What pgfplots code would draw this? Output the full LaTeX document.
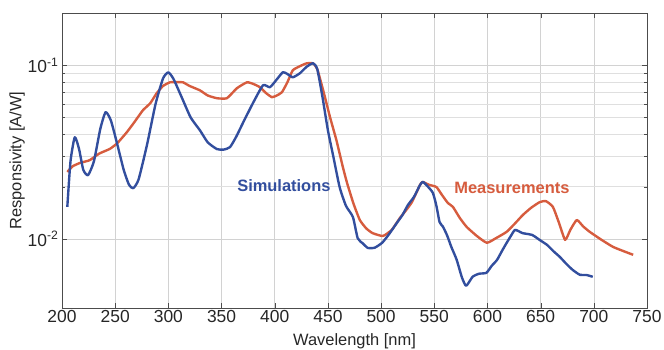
\documentclass[border=0pt]{standalone}
\usepackage{fontspec}
\setmainfont{Liberation Sans}
\usepackage{pgfplots}
\pgfplotsset{compat=1.18}
\definecolor{simblue}{RGB}{50,78,158}
\definecolor{measred}{RGB}{214,92,62}
\begin{document}
\begin{tikzpicture}[x=1bp,y=1bp]
\path[use as bounding box] (0,0) rectangle (664,349);
\begin{axis}[
  at={(62bp,41bp)}, anchor=south west,
  scale only axis, width=585bp, height=295bp,
  ymode=log, xmin=200, xmax=750, ymin=0.004, ymax=0.2,
  xtick={200,250,...,750},
  ytick={0.01,0.1}, yticklabels={10\textsuperscript{-2},10\textsuperscript{-1}},
  grid=both,
  major grid style={gray!35, line width=0.6pt},
  minor grid style={gray!25, line width=0.5pt},
  axis line style={gray!60!black, line width=0.7pt},
  tick style={gray!60!black},
  tick align=inside, major tick length=5bp, minor tick length=3bp,
  xtick pos=both, ytick pos=both,
  /pgf/number format/assume math mode=true,
  /pgf/number format/1000 sep={},
  tick label style={font=\fontsize{17.5}{17.5}\selectfont, text=black!85},
  xticklabel style={yshift=1bp},
  label style={font=\fontsize{16.5}{16.5}\selectfont, text=black!85},
  xlabel={Wavelength [nm]},
  ylabel={Responsivity [A/W]},
  xlabel style={at={(axis description cs:0.5,0)}, anchor=center, yshift=-33bp},
  ylabel style={yshift=-4bp},
]
\addplot[measred, line width=2.4pt, line join=round, smooth, tension=0.3] coordinates {
(205,0.0243)(210,0.0262)(217,0.0274)(226,0.0284)(235,0.031)(245,0.033)(252,0.0356)
(261,0.0412)(268,0.047)(276,0.055)(283,0.0605)(289,0.069)(295,0.076)(301.5,0.0798)
(308,0.080)(313.7,0.0798)(320,0.076)(329.7,0.0717)(337,0.067)(345.7,0.0646)(355,0.0646)
(364.5,0.0738)(373.9,0.0798)(380,0.078)(386,0.0748)(392,0.069)(397.4,0.0655)(402,0.067)
(406.8,0.070)(412,0.080)(417,0.0936)(424,0.099)(430,0.1026)(436,0.1026)(440,0.095)
(446,0.070)(452,0.0502)(458,0.037)(464,0.026)(468,0.021)(474,0.016)(480,0.01285)
(486,0.0115)(492,0.0108)(501.7,0.0104)(510,0.01127)(517.7,0.0132)(523,0.0145)(529,0.0163)
(536.5,0.0204)(539,0.0213)(545,0.0205)(552,0.0199)(557,0.018)(562.8,0.0161)(567.5,0.0153)
(574,0.0132)(580.6,0.0117)(590,0.0104)(599.4,0.0095)(608,0.0101)(618.2,0.011)(626,0.0123)
(633.3,0.01374)(641,0.0151)(649.2,0.0163)(655,0.0165)(661.5,0.0153)(667,0.0125)(673,0.00987)
(678,0.0113)(684,0.01285)(690,0.0118)(696,0.011)(707,0.0099)(718,0.009)(728,0.0085)(737,0.0081)
};
\addplot[simblue, line width=2.4pt, line join=round, smooth, tension=0.35] coordinates {
(205,0.0153)(208,0.028)(212,0.0385)(216,0.033)(220,0.025)(224.5,0.0233)(230,0.028)
(236,0.043)(241,0.0537)(246,0.048)(252,0.035)(258,0.025)(263,0.0205)(267,0.0196)(272,0.022)
(280,0.035)(288,0.06)(295,0.084)(300,0.091)(305,0.083)(313.7,0.063)(321,0.05)(329.7,0.0422)
(337,0.036)(345.7,0.0329)(352,0.0327)(358,0.0338)(364,0.039)(370,0.0464)(379.5,0.0605)
(389,0.0767)(395.5,0.0748)(402,0.083)(407.7,0.0912)(412,0.089)(417,0.0853)(423.7,0.090)
(430,0.098)(436,0.1027)(440,0.095)(445,0.065)(450,0.0422)(455,0.030)(461,0.0199)(467,0.0155)
(473.5,0.01337)(478,0.0101)(483,0.0094)(487.6,0.00887)(494,0.0089)(500.8,0.00948)(505.5,0.01026)
(510,0.0112)(514.8,0.01236)(520,0.0137)(525.2,0.01567)(531,0.0175)(536.5,0.0204)(539.3,0.0213)
(544,0.020)(548.7,0.0184)(552,0.0155)(555,0.0125)(558,0.0118)(562,0.0105)(566,0.0090)
(571,0.0076)(576,0.0060)(580,0.00537)(586,0.00605)(592,0.0063)(599,0.00638)(604,0.007)
(609,0.00757)(614,0.0086)(618,0.00948)(622,0.0104)(626,0.01127)(633,0.0108)(642,0.01054)
(649,0.00987)(656,0.00924)(662,0.0085)(668,0.00788)(674,0.0072)(680,0.00664)(687,0.00621)
(693,0.0062)(699,0.00605)
};
\node[text=simblue, font=\bfseries\fontsize{16.5}{16.5}\selectfont] at (axis cs:408.6,0.0202) {Simulations};
\node[text=measred, font=\bfseries\fontsize{16.5}{16.5}\selectfont] at (axis cs:623,0.0196) {Measurements};
\end{axis}
\end{tikzpicture}
\end{document}
